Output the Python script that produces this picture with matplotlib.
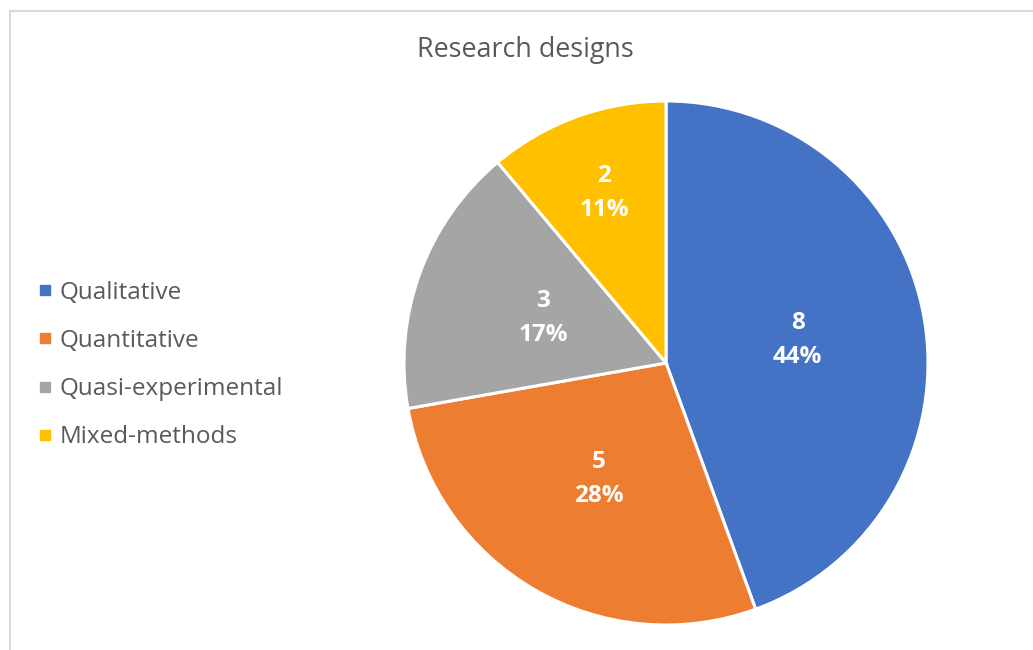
import matplotlib
matplotlib.use("Agg")
import matplotlib.pyplot as plt
from matplotlib.lines import Line2D
import numpy as np

categories = ["Qualitative", "Quantitative", "Quasi-experimental", "Mixed-methods"]
counts = [8, 5, 3, 2]
colors = ["#4472C4", "#ED7D31", "#A5A5A5", "#FFC000"]
label_radius = [0.51, 0.51, 0.50, 0.69]

plt.rcParams["font.family"] = ["Open Sans", "DejaVu Sans"]

W, H = 1033, 650
fig = plt.figure(figsize=(W / 100, H / 100), dpi=100)
fig.patch.set_facecolor("white")

# chart frame (top and left edges)
fig.add_artist(Line2D([9.5 / W, 9.5 / W], [0, 1 - 11 / H], color="#D9D9D9", lw=1.5,
                      transform=fig.transFigure))
fig.add_artist(Line2D([9.5 / W, 1], [1 - 11 / H, 1 - 11 / H], color="#D9D9D9", lw=1.5,
                      transform=fig.transFigure))

cx, cy, r = 666, 363, 262
ax = fig.add_axes([(cx - r) / W, (H - cy - r) / H, 2 * r / W, 2 * r / H])
wedges, _ = ax.pie(counts, colors=colors, startangle=90, counterclock=False,
                   radius=1.0, wedgeprops=dict(edgecolor="white", linewidth=2.2))
ax.set_xlim(-1, 1)
ax.set_ylim(-1, 1)
ax.set_aspect("equal")
ax.axis("off")

total = sum(counts)
for w, n, d in zip(wedges, counts, label_radius):
    mid = np.deg2rad((w.theta1 + w.theta2) / 2)
    x, y = d * np.cos(mid), d * np.sin(mid)
    ax.text(x, y, f"{n}\n{round(100 * n / total)}%", ha="center", va="center",
            color="white", fontsize=17.5, fontweight="bold", linespacing=1.55)

fig.text(525 / W, 1 - 57 / H, "Research designs", ha="center", va="baseline",
         fontsize=19.4, color="#595959")

handles = [Line2D([], [], marker="s", linestyle="none", markersize=6.5,
                  markerfacecolor=c, markeredgecolor=c) for c in colors]
leg = fig.legend(handles, categories, loc="center left",
                 bbox_to_anchor=(41 / W, 1 - 365 / H), frameon=False,
                 fontsize=17.5, labelcolor="#595959", handlelength=0.37,
                 handletextpad=0.4, labelspacing=1.0, borderpad=0,
                 borderaxespad=0)

fig.savefig("out.png", dpi=100, facecolor="white")
